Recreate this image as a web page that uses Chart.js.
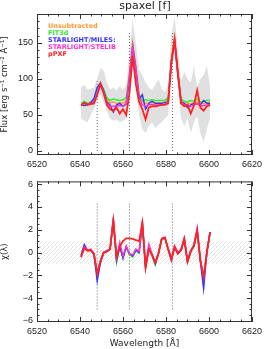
<!DOCTYPE html>
<html>
<head>
<meta charset="utf-8">
<script src="https://cdn.jsdelivr.net/npm/chart.js@4/dist/chart.umd.min.js"></script>
<style>
  body { margin: 0; background: #fff; }
  #wrap { position: relative; width: 266px; height: 349px; }
  #topBox { position: absolute; left: 0; top: 0; width: 266px; height: 172px; }
  #botBox { position: absolute; left: 0; top: 172px; width: 266px; height: 177px; }
</style>
</head>
<body>
<div id="wrap">
  <div id="topBox"><canvas id="fluxChart"></canvas></div>
  <div id="botBox"><canvas id="chiChart"></canvas></div>
</div>
<script>
// wavelength grid of the spectrum (A)
const waves = [6540.5, 6542, 6543.5, 6545, 6546.5, 6548, 6549.5, 6551, 6552.5, 6554,
  6555.5, 6557, 6558.5, 6560, 6561.5, 6563, 6564.5, 6566, 6567.5, 6569,
  6570.5, 6572, 6573.5, 6575, 6576.5, 6578, 6579.5, 6581, 6582.5, 6584,
  6585.5, 6587, 6588.5, 6590, 6591.5, 6593, 6594.5, 6596, 6597.5, 6599, 6600.5];

const seriesNames = ["Unsubtracted", "FIT3d", "STARLIGHT/MILES:", "STARLIGHT/STELIB", "pPXF"];
const seriesColors = ["#ff9933", "#33ee33", "#3333ff", "#ff33cc", "#ff2222"];

// flux per method
const fluxUnsub = [65, 68, 66, 67, 69, 82, 95, 85, 72, 67, 68, 66, 67, 66, 70, 108, 150, 118, 78, 68,
  66, 67, 68, 67, 67, 67, 68, 72, 128, 157, 112, 72, 66, 67, 65, 67, 68, 65, 66, 67, 67];
const fluxFit3d = [66, 69, 66, 68, 70, 82, 94, 85, 74, 70, 72, 71, 70, 71, 74, 106, 147, 116, 78, 70,
  71, 70, 71, 70, 70, 70, 70, 74, 126, 154, 110, 72, 69, 68, 70, 69, 72, 68, 69, 70, 70];
const fluxMiles = [64, 63, 64, 67, 73, 88, 94, 84, 68, 64, 54, 64, 66, 62, 65, 100, 145, 112, 72, 78,
  58, 66, 69, 66, 66, 66, 67, 68, 124, 152, 108, 68, 66, 60, 64, 66, 65, 64, 70, 66, 66];
const fluxStelib = [64, 66, 65, 66, 68, 80, 92, 82, 66, 62, 62, 62, 63, 62, 66, 104, 146, 114, 74, 64,
  62, 64, 65, 64, 64, 64, 65, 68, 125, 153, 108, 68, 64, 64, 62, 64, 66, 62, 63, 64, 64];
const fluxPpxf = [63, 67, 64, 65, 66, 78, 93, 80, 64, 58, 56, 60, 52, 58, 50, 80, 132, 92, 68, 58,
  44, 60, 62, 62, 63, 64, 64, 66, 122, 155, 108, 66, 62, 64, 52, 63, 84, 60, 56, 62, 64];

// grey error envelope
const fluxLow = [45, 42, 40, 50, 58, 72, 78, 68, 55, 45, 42, 44, 40, 42, 45, 80, 120, 88, 50, 30,
  25, 35, 40, 32, 36, 40, 45, 50, 110, 135, 90, 45, 35, 45, 25, 40, 48, 25, 12, 30, 45];
const fluxHigh = [88, 92, 85, 86, 88, 100, 115, 112, 95, 85, 88, 84, 90, 85, 92, 135, 182, 150, 112, 105,
  95, 88, 85, 92, 100, 86, 82, 92, 160, 185, 140, 98, 110, 100, 95, 118, 88, 100, 105, 118, 90];

// residuals chi(lambda) per method
const chiUnsub = [-0.35, 0.5, 0.15, 0.25, -0.1, -1.8, -0.7, 0, 0.1, 0.3, 2.8, -0.6, 0.6, -0.4, 0.5, -0.1, -0.3, 0.2, 0, 2.5,
  -1.4, 0.3, -0.2, -0.9, -0.1, 1.2, 1.3, 0.3, -0.6, 0.5, -0.1, 0.2, 1.2, -0.8, 0.1, 0.6, 1.9, -0.7, -2.3, 0, 1.8];
const chiFit3d = [-0.3, 0.45, 0.2, 0.2, -0.15, -1.9, -0.75, 0, 0.15, 0.3, 2.7, -0.9, 0.5, -0.5, 0.45, -0.2, -0.4, 0.15, -0.05, 2.4,
  -1.3, 0.4, -0.3, -1.1, -0.1, 1.1, 1.25, 0.25, -0.6, 0.4, -0.1, 0.2, 1.1, -0.8, 0.1, 0.5, 2.0, -0.7, -2.4, 0, 1.8];
const chiMiles = [-0.2, 0.7, 0.2, 0.25, -0.2, -2.5, -0.9, -0.05, 0.1, 0.3, 2.9, -0.7, 0.55, -0.5, 0.5, -0.1, -0.3, 0.2, 0, 2.6,
  -1.3, 0.4, -0.2, -1.0, -0.1, 1.2, 1.3, 0.3, -0.7, 0.5, -0.1, 0.2, 1.2, -0.8, 0.1, 0.6, 2.0, -0.8, -3.2, 0, 1.8];
const chiStelib = [-0.35, 0.5, 0.2, 0.3, -0.1, -1.8, -0.7, 0.05, 0.15, 0.35, 3.1, -0.5, 0.9, -0.3, 0.6, -0.1, -0.2, 0.3, 0.1, 2.8,
  -1.2, 0.75, -0.1, -0.9, 0, 1.25, 1.35, 0.35, -0.5, 0.6, 0, 0.3, 1.3, -0.7, 0.2, 0.7, 2.2, -0.6, -2.2, 0.1, 1.8];
const chiPpxf = [-0.4, 0.4, 0.15, 0.2, -0.1, -1.9, -0.8, 0, 0.1, 0.3, 2.8, -0.4, 0.55, 1.0, 1.25, 1.25, 1.2, 1.1, 1.0, 2.6,
  -1.3, 0.3, -0.2, -0.9, -0.1, 1.2, 1.3, 0.3, -0.6, 0.5, -0.1, 0.2, 1.2, -0.8, 0.1, 0.6, 1.9, -0.7, -2.2, 0, 1.8];

// emission line markers (dotted): wavelength, top-panel extent, bottom-panel extent
const lineWaves = [6548, 6563, 6583];
const lineFluxTop = [100, 165, 165];
const chiLineLow = -5, chiLineHigh = 4.3;

const xTicks = [6520, 6540, 6560, 6580, 6600, 6620];
const fluxTicks = [0, 50, 100, 150];
const chiTicks = [-6, -4, -2, 0, 2, 4, 6];

const tickFont = { family: "Liberation Sans", size: 9 };
const inkColor = "#222";

const pts = (ys) => waves.map((w, i) => ({ x: w, y: ys[i] }));

// inward major/minor ticks on all four sides plus the frame
const frameTicks = {
  id: "frameTicks",
  afterDraw(chart, args, opts) {
    const { ctx, chartArea: a, scales } = chart;
    ctx.save();
    ctx.strokeStyle = "#333";
    ctx.lineWidth = 1;
    ctx.strokeRect(a.left + 0.5, a.top + 0.5, a.right - a.left - 1, a.bottom - a.top - 1);
    const drawX = (v, len) => {
      const px = Math.round(scales.x.getPixelForValue(v)) + 0.5;
      ctx.beginPath();
      ctx.moveTo(px, a.bottom); ctx.lineTo(px, a.bottom - len);
      ctx.moveTo(px, a.top); ctx.lineTo(px, a.top + len);
      ctx.stroke();
    };
    const drawY = (v, len) => {
      const py = Math.round(scales.y.getPixelForValue(v)) + 0.5;
      ctx.beginPath();
      ctx.moveTo(a.left, py); ctx.lineTo(a.left + len, py);
      ctx.moveTo(a.right, py); ctx.lineTo(a.right - len, py);
      ctx.stroke();
    };
    for (let v = 6520; v <= 6620; v += 5) drawX(v, v % 20 === 0 ? 5 : 2.5);
    const ys = opts.yMinor;
    for (let v = ys[0]; v <= ys[1] + 1e-9; v += ys[2]) {
      const major = Math.abs(v / opts.yMajor - Math.round(v / opts.yMajor)) < 1e-6;
      if (v < scales.y.min || v > scales.y.max) continue;
      drawY(v, major ? 5 : 2.5);
    }
    ctx.restore();
  }
};

// coloured legend text and panel title
const textLayer = {
  id: "textLayer",
  afterDraw(chart, args, opts) {
    const { ctx } = chart;
    ctx.save();
    if (opts.title) {
      ctx.fillStyle = inkColor;
      ctx.font = "11px 'DejaVu Sans'";
      ctx.textAlign = "center";
      ctx.textBaseline = "middle";
      ctx.fillText(opts.title, 145, 6);
    }
    if (opts.legend) {
      ctx.font = "bold 6.5px 'DejaVu Sans'";
      ctx.textAlign = "left";
      ctx.textBaseline = "middle";
      seriesNames.forEach((n, i) => {
        ctx.fillStyle = seriesColors[i];
        ctx.fillText(n, 48, 26 + i * 7.2);
      });
    }
    ctx.restore();
  }
};

const methodSets = (arrays) => arrays.map((ys, i) => ({
  label: seriesNames[i],
  data: pts(ys),
  borderColor: seriesColors[i],
  borderWidth: i === 4 ? 1.8 : 1.4,
  pointRadius: 0,
  fill: false,
  tension: 0,
  order: 4 - i
}));

const markerSets = (lo, his) => lineWaves.map((w, i) => ({
  label: "line" + i,
  data: [{ x: w, y: lo }, { x: w, y: his[i] }],
  borderColor: "#666",
  borderWidth: 1,
  borderDash: [1, 2],
  pointRadius: 0,
  fill: false,
  order: 8
}));

const axisX = (showTitle, height) => ({
  type: "linear",
  min: 6520,
  max: 6620,
  afterBuildTicks: (s) => { s.ticks = xTicks.map(v => ({ value: v })); },
  afterFit: (s) => { s.height = height; },
  grid: { display: false, drawTicks: false },
  border: { display: false },
  ticks: { font: tickFont, color: inkColor, padding: 4, maxRotation: 0, callback: (v) => String(v) },
  title: { display: showTitle, text: "Wavelength [Å]", font: { family: "DejaVu Sans", size: 9 }, color: inkColor, padding: { top: 0, bottom: 0 } }
});

const axisY = (min, max, ticks, title) => ({
  type: "linear",
  min: min,
  max: max,
  afterBuildTicks: (s) => { s.ticks = ticks.map(v => ({ value: v })); },
  afterFit: (s) => { s.width = 37; },
  grid: { display: false, drawTicks: false },
  border: { display: false },
  ticks: { font: tickFont, color: inkColor, padding: 4, callback: (v) => (v < 0 ? "\u2212" + Math.abs(v) : String(v)) },
  title: { display: true, text: title, font: { family: "DejaVu Sans", size: 8.5 }, color: inkColor, padding: { top: 0, bottom: 3 } }
});

const baseOptions = {
  responsive: false,
  animation: false,
  plugins: { legend: { display: false }, tooltip: { enabled: false } }
};

function setCanvas(id, w, h) {
  const c = document.getElementById(id);
  c.width = w; c.height = h;
  c.style.width = w + "px"; c.style.height = h + "px";
  return c;
}

// top panel: flux
const topCanvas = setCanvas("fluxChart", 266, 172);
new Chart(topCanvas.getContext("2d"), {
  type: "line",
  data: {
    datasets: [
      ...methodSets([fluxUnsub, fluxFit3d, fluxMiles, fluxStelib, fluxPpxf]),
      ...markerSets(0, lineFluxTop),
      { label: "low", data: pts(fluxLow), borderWidth: 0, pointRadius: 0, fill: false, order: 10 },
      { label: "high", data: pts(fluxHigh), borderWidth: 0, pointRadius: 0, fill: "-1",
        backgroundColor: "rgba(218,218,218,0.85)", order: 10 }
    ]
  },
  options: {
    ...baseOptions,
    layout: { padding: { top: 14, right: 10, left: 0, bottom: 0 } },
    scales: {
      x: axisX(false, 17),
      y: axisY(-5.6, 190, fluxTicks, "Flux [erg s\u207B\u00B9 cm\u207B\u00B2 Å\u207B\u00B9]")
    },
    plugins: {
      ...baseOptions.plugins,
      frameTicks: { yMinor: [0, 190, 10], yMajor: 50 },
      textLayer: { title: "spaxel [f]", legend: true }
    }
  },
  plugins: [frameTicks, textLayer]
});

// hatch pattern for the |chi| < 1 band
function hatch() {
  const p = document.createElement("canvas");
  p.width = 4; p.height = 4;
  const c = p.getContext("2d");
  c.strokeStyle = "#dadada";
  c.lineWidth = 0.8;
  c.beginPath();
  c.moveTo(0, 4); c.lineTo(4, 0);
  c.moveTo(-1, 1); c.lineTo(1, -1);
  c.moveTo(3, 5); c.lineTo(5, 3);
  c.stroke();
  return c.createPattern(p, "repeat");
}

// bottom panel: residuals
const botCanvas = setCanvas("chiChart", 266, 177);
const botCtx = botCanvas.getContext("2d");
new Chart(botCtx, {
  type: "line",
  data: {
    datasets: [
      ...methodSets([chiUnsub, chiFit3d, chiMiles, chiStelib, chiPpxf]),
      ...markerSets(chiLineLow, lineWaves.map(() => chiLineHigh)),
      { label: "bandLow", data: [{ x: 6520, y: -1 }, { x: 6620, y: -1 }], borderWidth: 0, pointRadius: 0, fill: false, order: 10 },
      { label: "bandHigh", data: [{ x: 6520, y: 1 }, { x: 6620, y: 1 }], borderWidth: 0, pointRadius: 0, fill: "-1",
        backgroundColor: hatch(), order: 10 }
    ]
  },
  options: {
    ...baseOptions,
    layout: { padding: { top: 9, right: 10, left: 0, bottom: 0 } },
    scales: {
      x: axisX(true, 27),
      y: axisY(-6.1, 6.25, chiTicks, "\u03C7(\u03BB)")
    },
    plugins: {
      ...baseOptions.plugins,
      frameTicks: { yMinor: [-6, 6, 0.5], yMajor: 2 },
      textLayer: { title: null, legend: false }
    }
  },
  plugins: [frameTicks, textLayer]
});
</script>
</body>
</html>
